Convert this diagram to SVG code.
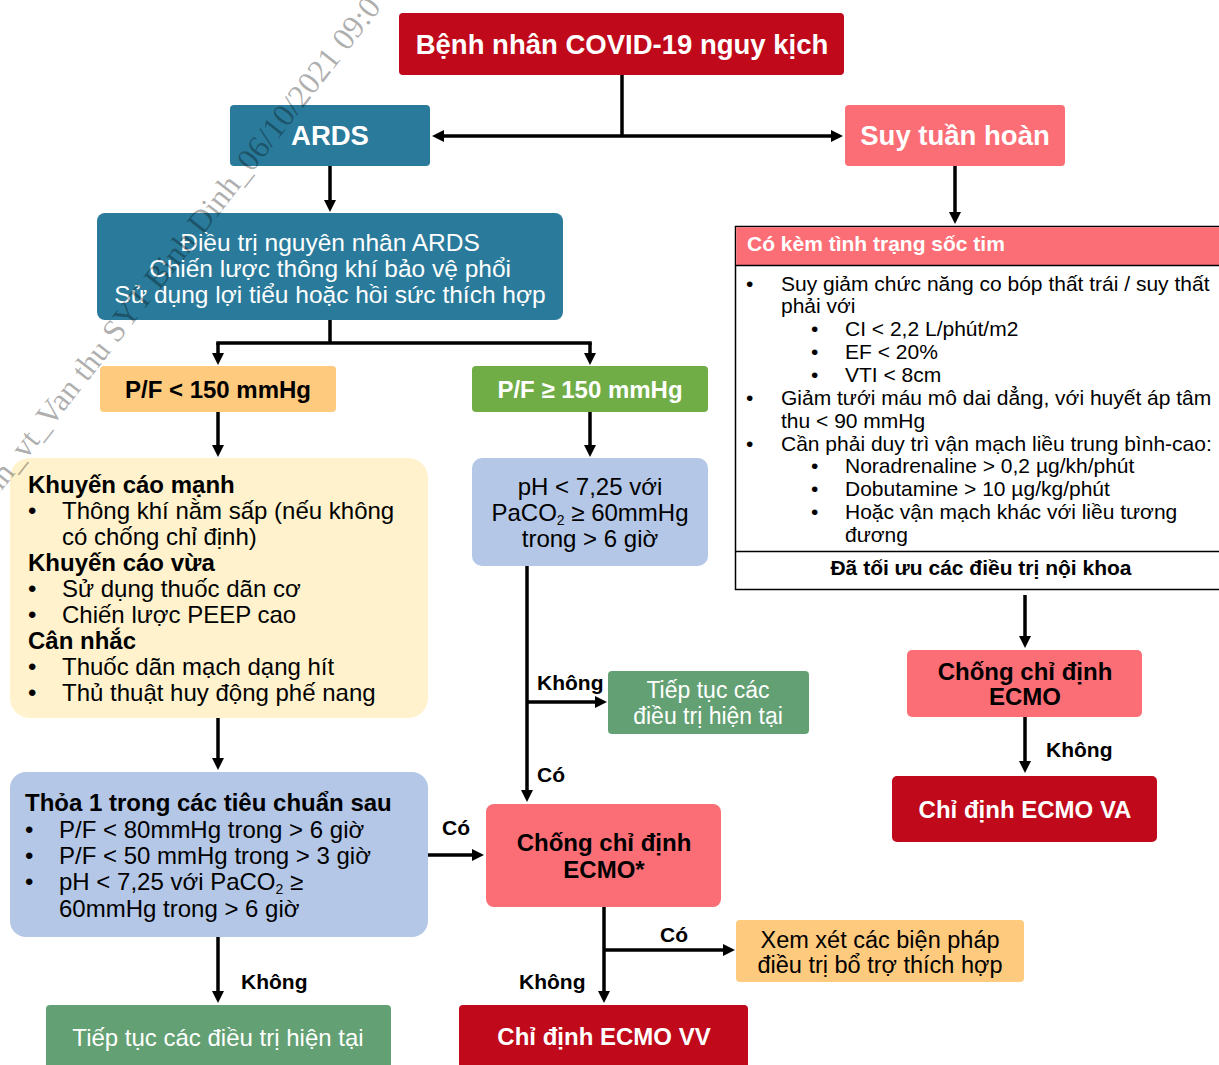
<svg xmlns="http://www.w3.org/2000/svg" width="1219" height="1065" viewBox="0 0 1219 1065">
<style>
  text { font-family: "Liberation Sans", Arial, sans-serif; }
  .b { font-weight: bold; }
  .w { fill: #ffffff; }
  .k { fill: #000000; }
  .c { text-anchor: middle; }
  .f27 { font-size: 27.5px; }
  .f24 { font-size: 24px; }
  .f23 { font-size: 23px; }
  .f21 { font-size: 21px; }
  .red { fill: #C0091A; }
  .teal { fill: #2A7B9B; }
  .salmon { fill: #FC6E75; }
  .orange { fill: #FECA7E; }
  .lgreen { fill: #70AD47; }
  .cream { fill: #FFF2CC; }
  .blue { fill: #B4C7E7; }
  .green { fill: #63A073; }
  .conn { stroke: #000; stroke-width: 3.5; fill: none; }
  .arr { marker-end: url(#ah); }
  .sub { font-size: 14px; }
  .wm { font-family: "Liberation Serif", "Times New Roman", serif; font-size: 32px; fill: #000000; fill-opacity: 0.33; }
</style>
<defs>
  <marker id="ah" markerWidth="13" markerHeight="12" refX="4" refY="6" orient="auto-start-reverse" markerUnits="userSpaceOnUse">
    <path d="M0,0 L12,6 L0,12 z" fill="#000"/>
  </marker>
</defs>
<rect width="1219" height="1065" fill="#ffffff"/>

<!-- connectors -->
<g id="connectors">
  <path class="conn" d="M622,75 V136"/>
  <line class="conn" x1="440" y1="136" x2="835" y2="136" marker-start="url(#ah)" marker-end="url(#ah)"/>
  <line class="conn arr" x1="330" y1="166" x2="330" y2="204"/>
  <line class="conn arr" x1="955" y1="166" x2="955" y2="216"/>
  <path class="conn" d="M330,320 V343 M216.25,343 H591.75"/>
  <line class="conn arr" x1="218" y1="343" x2="218" y2="357"/>
  <line class="conn arr" x1="590" y1="343" x2="590" y2="357"/>
  <line class="conn arr" x1="218" y1="412" x2="218" y2="449"/>
  <line class="conn arr" x1="590" y1="412" x2="590" y2="449"/>
  <line class="conn arr" x1="218" y1="718" x2="218" y2="762"/>
  <line class="conn arr" x1="218" y1="937" x2="218" y2="995"/>
  <line class="conn arr" x1="428" y1="855" x2="476" y2="855"/>
  <line class="conn arr" x1="527" y1="566" x2="527" y2="794"/>
  <line class="conn arr" x1="527" y1="702" x2="599" y2="702"/>
  <line class="conn arr" x1="604" y1="907" x2="604" y2="995"/>
  <line class="conn arr" x1="604" y1="950" x2="727" y2="950"/>
  <line class="conn arr" x1="1025" y1="595" x2="1025" y2="640"/>
  <line class="conn arr" x1="1025" y1="717" x2="1025" y2="765"/>
  <text class="b f21 k" x="241" y="989">Không</text>
  <text class="b f21 k" x="442" y="835">Có</text>
  <text class="b f21 k" x="537" y="690">Không</text>
  <text class="b f21 k" x="537" y="782">Có</text>
  <text class="b f21 k" x="660" y="942">Có</text>
  <text class="b f21 k" x="519" y="989">Không</text>
  <text class="b f21 k" x="1046" y="757">Không</text>
</g>

<g id="n-title">
  <rect class="red" x="399" y="13" width="445" height="62" rx="4"/>
  <text class="b f27 w c" x="622" y="54">Bệnh nhân COVID-19 nguy kịch</text>
</g>
<g id="n-ards">
  <rect class="teal" x="230" y="105" width="200" height="61" rx="4"/>
  <text class="b f27 w c" x="330" y="145">ARDS</text>
</g>
<g id="n-suy">
  <rect class="salmon" x="845" y="105" width="220" height="61" rx="4"/>
  <text class="b f27 w c" x="955" y="145">Suy tuần hoàn</text>
</g>
<g id="n-dieutri">
  <rect class="teal" x="97" y="213" width="466" height="107" rx="8"/>
  <text class="w c" style="font-size:24.5px" x="330" y="251">Điều trị nguyên nhân ARDS</text>
  <text class="w c" style="font-size:24.5px" x="330" y="277">Chiến lược thông khí bảo vệ phổi</text>
  <text class="w c" style="font-size:24.5px" x="330" y="303">Sử dụng lợi tiểu hoặc hồi sức thích hợp</text>
</g>
<g id="n-pf-low">
  <rect class="orange" x="100" y="366" width="236" height="46" rx="4"/>
  <text class="b f24 k c" x="218" y="398">P/F &lt; 150 mmHg</text>
</g>
<g id="n-pf-high">
  <rect class="lgreen" x="472" y="366" width="236" height="46" rx="4"/>
  <text class="b f24 w c" x="590" y="398">P/F ≥ 150 mmHg</text>
</g>
<g id="n-khuyencao">
  <rect class="cream" x="10" y="458" width="418" height="260" rx="20"/>
  <g class="f24 k">
    <text class="b" x="28" y="493">Khuyến cáo mạnh</text>
    <text x="28" y="519">•</text><text x="62" y="519">Thông khí nằm sấp (nếu không</text>
    <text x="62" y="545">có chống chỉ định)</text>
    <text class="b" x="28" y="571">Khuyến cáo vừa</text>
    <text x="28" y="597">•</text><text x="62" y="597">Sử dụng thuốc dãn cơ</text>
    <text x="28" y="623">•</text><text x="62" y="623">Chiến lược PEEP cao</text>
    <text class="b" x="28" y="649">Cân nhắc</text>
    <text x="28" y="675">•</text><text x="62" y="675">Thuốc dãn mạch dạng hít</text>
    <text x="28" y="701">•</text><text x="62" y="701">Thủ thuật huy động phế nang</text>
  </g>
</g>
<g id="n-ph">
  <rect class="blue" x="472" y="458" width="236" height="108" rx="10"/>
  <g class="f24 k c">
    <text x="590" y="495">pH &lt; 7,25 với</text>
    <text x="590" y="521">PaCO<tspan class="sub" dy="4">2</tspan><tspan dy="-4"> ≥ 60mmHg</tspan></text>
    <text x="590" y="547">trong &gt; 6 giờ</text>
  </g>
</g>
<g id="n-tieptuc1">
  <rect class="green" x="608" y="671" width="201" height="63" rx="4"/>
  <text class="f23 w c" x="708" y="698">Tiếp tục các</text>
  <text class="f23 w c" x="708" y="724">điều trị hiện tại</text>
</g>
<g id="n-thoa">
  <rect class="blue" x="10" y="772" width="418" height="165" rx="16"/>
  <g class="f24 k">
    <text class="b" x="25" y="811">Thỏa 1 trong các tiêu chuẩn sau</text>
    <text x="25" y="838">•</text><text x="59" y="838">P/F &lt; 80mmHg trong &gt; 6 giờ</text>
    <text x="25" y="864">•</text><text x="59" y="864">P/F &lt; 50 mmHg trong &gt; 3 giờ</text>
    <text x="25" y="890">•</text><text x="59" y="890">pH &lt; 7,25 với PaCO<tspan class="sub" dy="4">2</tspan><tspan dy="-4"> ≥</tspan></text>
    <text x="59" y="917">60mmHg trong &gt; 6 giờ</text>
  </g>
</g>
<g id="n-tieptuc2">
  <rect class="green" x="46" y="1005" width="345" height="70" rx="4"/>
  <text class="f24 w c" x="218" y="1046">Tiếp tục các điều trị hiện tại</text>
</g>
<g id="n-ecmo-star">
  <rect class="salmon" x="486" y="804" width="235" height="103" rx="8"/>
  <text class="b f24 k c" x="604" y="851">Chống chỉ định</text>
  <text class="b f24 k c" x="604" y="878">ECMO*</text>
</g>
<g id="n-xemxet">
  <rect class="orange" x="736" y="920" width="288" height="62" rx="4"/>
  <text class="k c" style="font-size:23.5px" x="880" y="948">Xem xét các biện pháp</text>
  <text class="k c" style="font-size:23.5px" x="880" y="973">điều trị bổ trợ thích hợp</text>
</g>
<g id="n-ecmo-vv">
  <rect class="red" x="459" y="1005" width="289" height="70" rx="4"/>
  <text class="b f24 w c" x="604" y="1045">Chỉ định ECMO VV</text>
</g>
<g id="n-soctim">
  <rect x="735.5" y="226.5" width="500" height="363" fill="#ffffff" stroke="#000" stroke-width="1.5"/>
  <rect class="salmon" x="736.25" y="227.25" width="498" height="38" />
  <line x1="735.5" y1="265.5" x2="1235" y2="265.5" stroke="#000" stroke-width="1.5"/>
  <line x1="735.5" y1="551.5" x2="1235" y2="551.5" stroke="#000" stroke-width="1.5"/>
  <text class="b f21 w" x="747" y="251">Có kèm tình trạng sốc tim</text>
  <g class="f21 k">
    <text x="746" y="291">•</text><text x="781" y="291">Suy giảm chức năng co bóp thất trái / suy thất</text>
    <text x="781" y="313">phải với</text>
    <text x="811" y="336">•</text><text x="845" y="336">CI &lt; 2,2 L/phút/m2</text>
    <text x="811" y="359">•</text><text x="845" y="359">EF &lt; 20%</text>
    <text x="811" y="382">•</text><text x="845" y="382">VTI &lt; 8cm</text>
    <text x="746" y="405">•</text><text x="781" y="405">Giảm tưới máu mô dai dẳng, với huyết áp tâm</text>
    <text x="781" y="428">thu &lt; 90 mmHg</text>
    <text x="746" y="451">•</text><text x="781" y="451">Cần phải duy trì vận mạch liều trung bình-cao:</text>
    <text x="811" y="473">•</text><text x="845" y="473">Noradrenaline &gt; 0,2 µg/kh/phút</text>
    <text x="811" y="496">•</text><text x="845" y="496">Dobutamine &gt; 10 µg/kg/phút</text>
    <text x="811" y="519">•</text><text x="845" y="519">Hoặc vận mạch khác với liều tương</text>
    <text x="845" y="542">đương</text>
  </g>
  <text class="b f21 k c" x="981" y="575">Đã tối ưu các điều trị nội khoa</text>
</g>
<g id="n-ecmo">
  <rect class="salmon" x="907" y="650" width="235" height="67" rx="5"/>
  <text class="b f24 k c" x="1025" y="680">Chống chỉ định</text>
  <text class="b f24 k c" x="1025" y="705">ECMO</text>
</g>
<g id="n-ecmo-va">
  <rect class="red" x="892" y="776" width="265" height="66" rx="5"/>
  <text class="b f24 w c" x="1025" y="818">Chỉ định ECMO VA</text>
</g>

<!-- watermark (on top, translucent) -->
<text class="wm" x="-4" y="498" transform="rotate(-51.8 -4 498)">nh_vt_Van thu SYT Binh Dinh_06/10/2021 09:0</text>
</svg>
